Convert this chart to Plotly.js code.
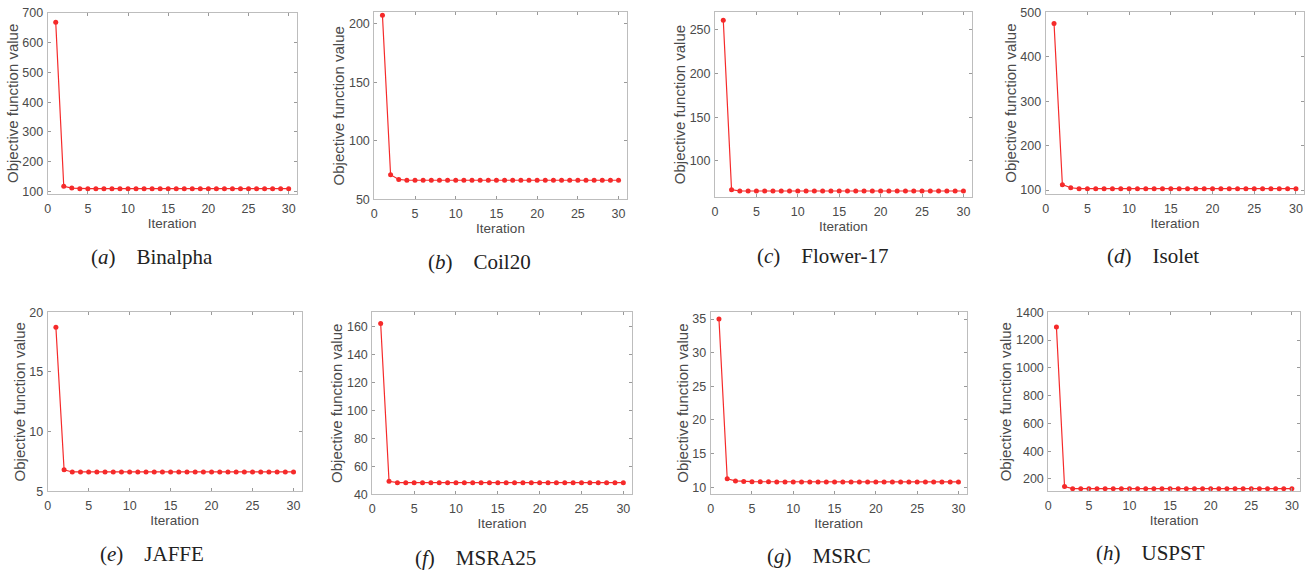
<!DOCTYPE html>
<html>
<head>
<meta charset="utf-8">
<script src="https://cdn.plot.ly/plotly-3.0.1.min.js"></script>
<style>html,body{margin:0;padding:0;background:#fff;}#chart{width:1311px;height:570px;}</style>
</head>
<body>
<div id="chart"></div>
<script>
// Iteration index (x values)
const iterations = [1,2,3,4,5,6,7,8,9,10,11,12,13,14,15,16,17,18,19,20,21,22,23,24,25,26,27,28,29,30];

// Objective function values per dataset
const binalpha = [668,118,112,110,110,110,110,110,110,110,110,110,110,110,110,110,110,110,110,110,110,110,110,110,110,110,110,110,110,110];
const coil20   = [207.5,71,67,66.3,66.3,66.3,66.3,66.3,66.3,66.3,66.3,66.3,66.3,66.3,66.3,66.3,66.3,66.3,66.3,66.3,66.3,66.3,66.3,66.3,66.3,66.3,66.3,66.3,66.3,66.3];
const flower17 = [261,67,65.5,65.5,65.5,65.5,65.5,65.5,65.5,65.5,65.5,65.5,65.5,65.5,65.5,65.5,65.5,65.5,65.5,65.5,65.5,65.5,65.5,65.5,65.5,65.5,65.5,65.5,65.5,65.5];
const isolet   = [475,112,105,103,103,103,103,103,103,103,103,103,103,103,103,103,103,103,103,103,103,103,103,103,103,103,103,103,103,103];
const jaffe    = [18.75,6.8,6.62,6.62,6.62,6.62,6.62,6.62,6.62,6.62,6.62,6.62,6.62,6.62,6.62,6.62,6.62,6.62,6.62,6.62,6.62,6.62,6.62,6.62,6.62,6.62,6.62,6.62,6.62,6.62];
const msra25   = [162,49.3,48.3,48.3,48.3,48.3,48.3,48.3,48.3,48.3,48.3,48.3,48.3,48.3,48.3,48.3,48.3,48.3,48.3,48.3,48.3,48.3,48.3,48.3,48.3,48.3,48.3,48.3,48.3,48.3];
const msrc     = [35,11.25,10.95,10.85,10.83,10.82,10.81,10.8,10.8,10.8,10.8,10.8,10.8,10.8,10.8,10.8,10.8,10.8,10.8,10.8,10.8,10.8,10.8,10.8,10.8,10.8,10.8,10.8,10.8,10.8];
const uspst    = [1295,145,130,130,130,130,130,130,130,130,130,130,130,130,130,130,130,130,130,130,130,130,130,130,130,130,130,130,130,130];

// Captions
const letters = ['a','b','c','d','e','f','g','h'];
const names = ['Binalpha','Coil20','Flower-17','Isolet','JAFFE','MSRA25','MSRC','USPST'];
const series = [binalpha, coil20, flower17, isolet, jaffe, msra25, msrc, uspst];

// Y-axis tick values
const yTicks = [
  [100,200,300,400,500,600,700],
  [50,100,150,200],
  [100,150,200,250],
  [100,200,300,400,500],
  [5,10,15,20],
  [40,60,80,100,120,140,160],
  [10,15,20,25,30,35],
  [200,400,600,800,1000,1200,1400]
];
const xTicks = [0,5,10,15,20,25,30];

// layout geometry (pixels)
const W = 1311, H = 570;
const boxes = [
  [47.7, 296.7, 12.7, 194],
  [374.3, 626.7, 12.3, 199.3],
  [715, 971.7, 12.3, 196.7],
  [1045.7, 1304.3, 12.3, 194],
  [47.7, 301.7, 312.3, 491.3],
  [372.3, 631.7, 312.3, 494.3],
  [710.7, 966.7, 312.3, 494],
  [1048.3, 1300, 312.3, 491]
];
const yRanges = [[92,700],[50,210],[59,270],[91,500],[5,20],[40,170],[9,36],[113,1400]];
const capPos = [[152,257],[479,262],[822,256],[1153,256],[152,554],[475,558],[819,556],[1150,553]];

const textColor = '#4a4a4a';
const axisColor = '#bdbdbd';
const red = '#f52a2a';

const data = [];
const layout = {
  width: W, height: H,
  margin: {l:0, r:0, t:0, b:0},
  paper_bgcolor: '#ffffff',
  plot_bgcolor: '#ffffff',
  showlegend: false,
  font: {family: 'Liberation Sans, Arial, sans-serif', color: textColor},
  annotations: []
};

series.forEach((vals, i) => {
  const n = i === 0 ? '' : String(i + 1);
  data.push({
    type: 'scatter', mode: 'lines+markers',
    x: iterations, y: vals,
    xaxis: 'x' + n, yaxis: 'y' + n,
    line: {color: red, width: 1.2},
    marker: {color: red, size: 5, symbol: 'circle'},
    hoverinfo: 'skip'
  });
  const b = boxes[i];
  layout['xaxis' + n] = {
    domain: [b[0] / W, b[1] / W],
    anchor: 'y' + n,
    range: [0, 31],
    tickvals: xTicks,
    ticks: 'inside', ticklen: 3, tickcolor: '#9a9a9a', tickwidth: 1,
    ticklabelstandoff: 3,
    showline: true, linecolor: axisColor, linewidth: 1, mirror: 'ticks',
    showgrid: false, zeroline: false,
    tickfont: {size: 12.5, color: textColor},
    title: {text: 'Iteration', font: {size: 13.5, color: textColor}, standoff: 3}
  };
  layout['yaxis' + n] = {
    domain: [1 - b[3] / H, 1 - b[2] / H],
    anchor: 'x' + n,
    range: yRanges[i],
    tickvals: yTicks[i],
    ticks: 'inside', ticklen: 3, tickcolor: '#9a9a9a', tickwidth: 1,
    ticklabelstandoff: 1,
    showline: true, linecolor: axisColor, linewidth: 1, mirror: 'ticks',
    showgrid: false, zeroline: false,
    tickfont: {size: 12.5, color: textColor},
    title: {text: 'Objective function value', font: {size: 15, color: textColor}, standoff: 0}
  };
  layout.annotations.push({
    xref: 'paper', yref: 'paper',
    x: capPos[i][0] / W, y: 1 - capPos[i][1] / H,
    xanchor: 'center', yanchor: 'middle',
    showarrow: false,
    text: '(<i>' + letters[i] + '</i>)\u00a0\u00a0\u00a0\u00a0' + names[i],
    font: {family: 'Liberation Serif, Times New Roman, serif', size: 21, color: '#222222'}
  });
});

Plotly.newPlot('chart', data, layout, {staticPlot: true, displayModeBar: false});
</script>
</body>
</html>
